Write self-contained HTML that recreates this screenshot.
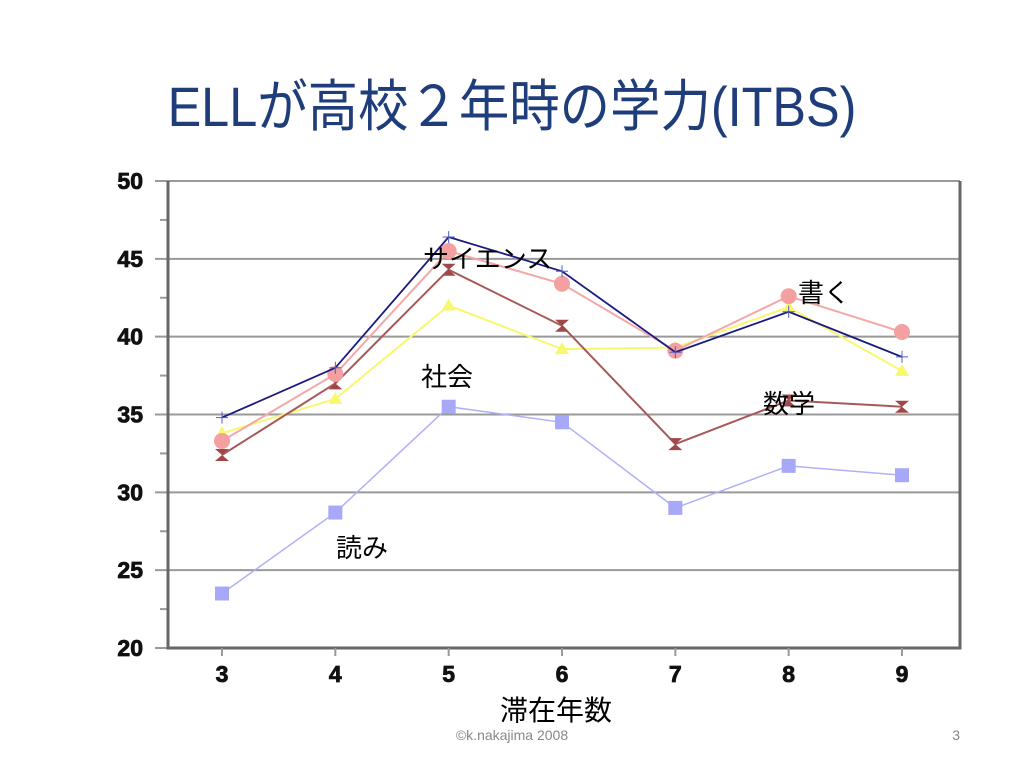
<!DOCTYPE html>
<html><head><meta charset="utf-8">
<style>
body{margin:0;width:1024px;height:768px;background:#fff;overflow:hidden;font-family:"Liberation Sans","Noto Sans CJK JP",sans-serif;}
#title{position:absolute;left:0;top:62px;width:1024px;text-align:center;font-size:56px;color:#1f3d7a;font-family:"Liberation Sans","Noto Sans CJK JP",sans-serif;transform:scaleX(0.9);}
svg{position:absolute;left:0;top:0;}
</style></head><body>
<div id="title">ELLが高校２年時の学力(ITBS)</div>
<svg id="chart" width="1024" height="768"></svg>
<script>
const categories=[3,4,5,6,7,8,9];
const yTicks=[20,25,30,35,40,45,50];
const science=[34.8,38.0,46.4,44.2,39.0,41.6,38.7];
const writing=[33.3,37.6,45.5,43.4,39.1,42.6,40.3];
const social=[33.8,36.0,42.0,39.2,39.3,41.9,37.8];
const math=[32.4,37.0,44.3,40.7,33.1,35.9,35.5];
const reading=[23.5,28.7,35.5,34.5,29.0,31.7,31.1];
const NS='http://www.w3.org/2000/svg';
const svg=document.getElementById('chart');
const L=168,R=960,T=181,B=648;
const x=c=>222+(c-3)*(902-222)/6;
const y=v=>B-(v-20)*(B-T)/30;
function el(t,a,p){const e=document.createElementNS(NS,t);for(const k in a)e.setAttribute(k,a[k]);(p||svg).appendChild(e);return e;}
const g=el('g',{});


yTicks.forEach(v=>{
 const ln=el('line',{x1:155,x2:R,y1:y(v),y2:y(v),stroke:'#999','stroke-width':2},g);
 
 
 const t=el('text',{x:143,y:y(v)+8,'text-anchor':'end','font-size':23,'font-weight':'900',fill:'#111','stroke':'#111','stroke-width':0.8});
 t.textContent=v;
 
 
 if(v<50){const m=el('line',{x1:160,x2:L,y1:y(v+2.5),y2:y(v+2.5),stroke:'#999','stroke-width':2},g);
 
 }
});
const ax=el('path',{d:`M${L},${T} V${B} H${R} V${T}`,fill:'none',stroke:'#666','stroke-width':3});


categories.forEach(c=>{
 el('line',{x1:x(c),x2:x(c),y1:B,y2:B+8,stroke:'#999','stroke-width':2});
 const t=el('text',{x:x(c),y:B+34,'text-anchor':'middle','font-size':23,'font-weight':'900',fill:'#111','stroke':'#111','stroke-width':0.8});
 t.textContent=c;
 
 
});
function series(name,vals,color,w,marker){
 const s=el('g',{});
 
 
 const pl=el('polyline',{points:vals.map((v,i)=>x(categories[i])+','+y(v)).join(' '),fill:'none',stroke:color,'stroke-width':w},s);
 
 
 vals.forEach((v,i)=>{
  const cx=x(categories[i]),cy=y(v);let m;
  if(marker==='circle')m=el('circle',{cx,cy,r:8,fill:'#f4a0a0'},s);
  else if(marker==='square')m=el('rect',{x:cx-7,y:cy-7,width:14,height:14,fill:'#a8a8f8'},s);
  else if(marker==='tri')m=el('polygon',{points:`${cx},${cy-7} ${cx+7},${cy+5} ${cx-7},${cy+5}`,fill:'#f8f870'},s);
  else if(marker==='hour')m=el('polygon',{points:`${cx-7},${cy-6} ${cx+7},${cy-6} ${cx},${cy} ${cx+7},${cy+6} ${cx-7},${cy+6} ${cx},${cy}`,fill:'#a04848'},s);
  else m=el('path',{d:`M${cx-6},${cy}H${cx+6}M${cx},${cy-6}V${cy+6}`,stroke:'#5060c0','stroke-width':1},s);
  
  
 });
}
series('reading',reading,'#b0b0f8',1.5,'square');
series('social',social,'#f8f870',2,'tri');
series('math',math,'#a85858',2,'hour');
series('writing',writing,'#f4a8a8',2,'circle');
series('science',science,'#1a1a80',1.8,'plus');
const labels=[['サイエンス',423,268],['書く',798,302],['社会',421,386],['数学',763,413],['読み',336,557],['滞在年数',500,720]];
const names=['science-label','writing-label','social-label','math-label','reading-label','x-axis-title'];
labels.forEach((l,i)=>{
 const t=el('text',{x:l[1],y:l[2],'font-size':i==5?28:26,fill:'#000'});
 t.textContent=l[0];
 
 
});
const f=el('text',{x:512,y:740,'text-anchor':'middle','font-size':14,fill:'#888'});
f.textContent='©k.nakajima 2008';


const n=el('text',{x:960,y:740,'text-anchor':'end','font-size':14,fill:'#888'});
n.textContent='3';


</script>
</body></html>
